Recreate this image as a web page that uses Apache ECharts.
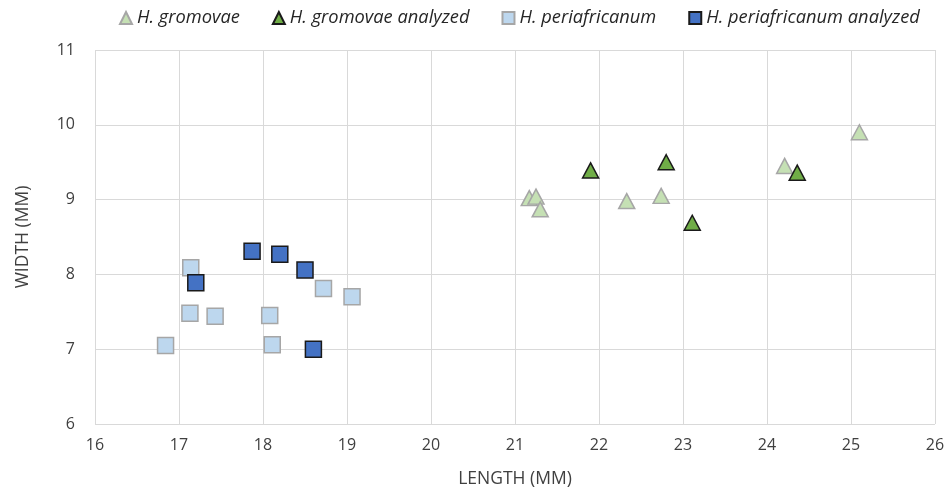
<!DOCTYPE html>
<html>
<head>
<meta charset="utf-8">
<script src="https://cdn.jsdelivr.net/npm/echarts@6/dist/echarts.min.js"></script>
<style>
  html, body { margin: 0; padding: 0; background: #fff; }
  #chart { width: 951px; height: 494px; }
</style>
</head>
<body>
<div id="chart"></div>
<script>
// Shell measurements: [length, width] in mm
const gromovae = [
  [21.17, 9.02], [21.25, 9.04], [21.30, 8.87], [22.33, 8.98],
  [22.74, 9.05], [24.21, 9.45], [25.10, 9.90]
];
const gromovaeAnalyzed = [
  [21.90, 9.39], [22.80, 9.50], [23.11, 8.69], [24.36, 9.36]
];
const periafricanum = [
  [17.14, 8.09], [17.13, 7.48], [17.43, 7.44], [16.84, 7.05],
  [18.08, 7.45], [18.11, 7.06], [18.72, 7.81], [19.06, 7.70]
];
const periafricanumAnalyzed = [
  [17.20, 7.89], [17.87, 8.31], [18.20, 8.27], [18.50, 8.06], [18.60, 7.00]
];
const seriesNames = [
  'H. gromovae', 'H. gromovae analyzed',
  'H. periafricanum', 'H. periafricanum analyzed'
];

const font = '"Open Sans", "Liberation Sans", sans-serif';
const chart = echarts.init(document.getElementById('chart'));

function scatter(name, data, symbol, size, fill, border) {
  return {
    name: name,
    type: 'scatter',
    data: data,
    symbol: symbol,
    symbolSize: size,
    itemStyle: { color: fill, borderColor: border, borderWidth: 1.5, opacity: 1 },
    emphasis: { disabled: true }
  };
}

chart.setOption({
  animation: false,
  backgroundColor: '#ffffff',
  legend: {
    top: 4,
    left: 114,
    itemWidth: 12,
    itemHeight: 12,
    itemGap: 32,
    textStyle: { fontFamily: font, fontSize: 18.3, fontStyle: 'italic', color: '#262626' },
    data: seriesNames
  },
  grid: { left: 95, right: 16, top: 50, bottom: 70, outerBoundsMode: 'none' },
  xAxis: {
    type: 'value',
    min: 16, max: 26, interval: 1,
    name: 'LENGTH (MM)',
    nameLocation: 'middle',
    nameGap: 46,
    nameTextStyle: { fontFamily: font, fontSize: 17.5, color: '#404040' },
    axisLine: { show: false },
    axisTick: { show: false },
    axisLabel: { fontFamily: font, fontSize: 16, color: '#404040', margin: 13 },
    splitLine: { show: true, lineStyle: { color: '#d9d9d9', width: 1 } }
  },
  yAxis: {
    type: 'value',
    min: 6, max: 11, interval: 1,
    name: 'WIDTH (MM)',
    nameLocation: 'middle',
    nameGap: 63,
    nameTextStyle: { fontFamily: font, fontSize: 17.5, color: '#404040' },
    axisLine: { show: false },
    axisTick: { show: false },
    axisLabel: { fontFamily: font, fontSize: 16, color: '#404040', margin: 20 },
    splitLine: { show: true, lineStyle: { color: '#d9d9d9', width: 1 } }
  },
  series: [
    scatter(seriesNames[0], gromovae, 'triangle', [16, 15], '#c5e0b4', '#a6a6a6'),
    scatter(seriesNames[1], gromovaeAnalyzed, 'triangle', [16, 15], '#70ad47', '#1a1a1a'),
    scatter(seriesNames[2], periafricanum, 'rect', 16, '#bdd7ee', '#a6a6a6'),
    scatter(seriesNames[3], periafricanumAnalyzed, 'rect', 16, '#4472c4', '#1a1a1a')
  ]
});
</script>
</body>
</html>
